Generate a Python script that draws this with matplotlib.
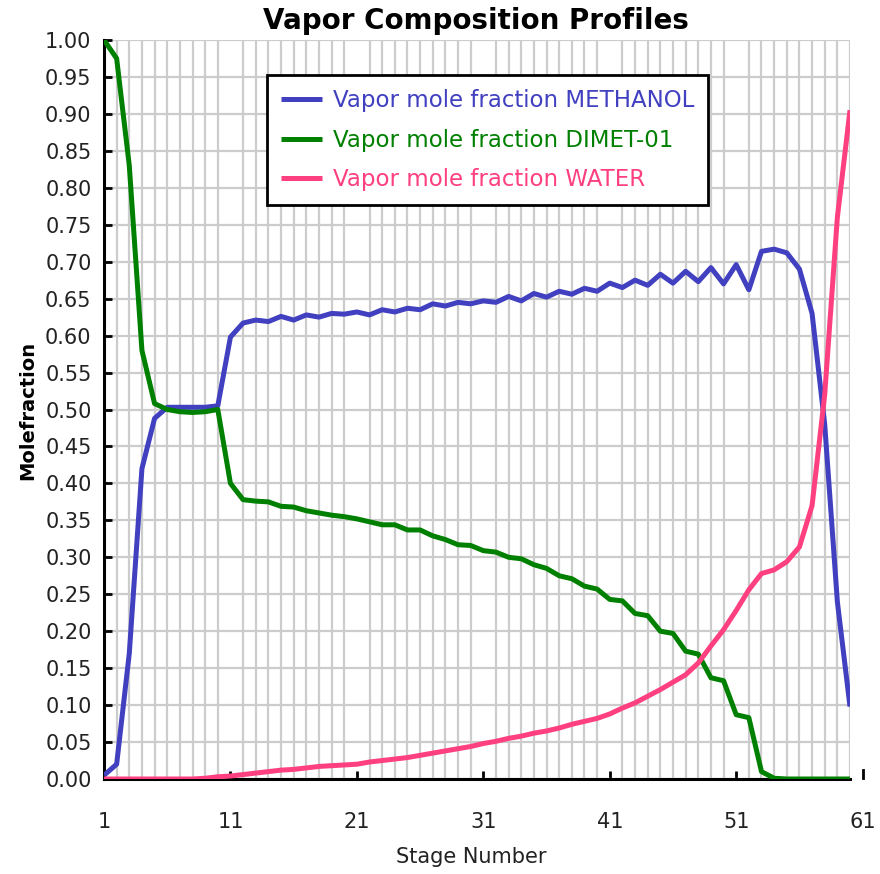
import numpy as np
import matplotlib
matplotlib.use("Agg")
import matplotlib.pyplot as plt
import matplotlib.transforms as mtransforms

# Stage numbers (column stages 1..60)
stages = list(range(1, 61))

methanol = [0.005, 0.020, 0.170, 0.420, 0.488, 0.503, 0.503, 0.503, 0.503, 0.505,
            0.598, 0.617, 0.621, 0.619, 0.626, 0.621, 0.628, 0.625, 0.630, 0.629,
            0.632, 0.628, 0.635, 0.632, 0.637, 0.635, 0.643, 0.640, 0.645, 0.643,
            0.647, 0.645, 0.653, 0.647, 0.657, 0.652, 0.660, 0.656, 0.664, 0.660,
            0.671, 0.665, 0.675, 0.668, 0.683, 0.671, 0.687, 0.673, 0.692, 0.670,
            0.696, 0.662, 0.714, 0.717, 0.712, 0.690, 0.630, 0.480, 0.240, 0.098]

dimethyl_ether = [1.000, 0.975, 0.830, 0.580, 0.508, 0.500, 0.497, 0.496, 0.497, 0.500,
                  0.400, 0.378, 0.376, 0.375, 0.369, 0.368, 0.363, 0.360, 0.357, 0.355,
                  0.352, 0.348, 0.344, 0.344, 0.337, 0.337, 0.329, 0.324, 0.317, 0.316,
                  0.309, 0.307, 0.300, 0.298, 0.290, 0.285, 0.275, 0.271, 0.261, 0.257,
                  0.243, 0.241, 0.224, 0.221, 0.200, 0.197, 0.173, 0.169, 0.137, 0.133,
                  0.087, 0.083, 0.010, 0.001, 0.000, 0.000, 0.000, 0.000, 0.000, 0.000]

water = [0.000, 0.000, 0.000, 0.000, 0.000, 0.000, 0.000, 0.000, 0.001, 0.003,
         0.004, 0.006, 0.008, 0.010, 0.012, 0.013, 0.015, 0.017, 0.018, 0.019,
         0.020, 0.023, 0.025, 0.027, 0.029, 0.032, 0.035, 0.038, 0.041, 0.044,
         0.048, 0.051, 0.055, 0.058, 0.062, 0.065, 0.069, 0.074, 0.078, 0.082,
         0.088, 0.096, 0.103, 0.112, 0.121, 0.131, 0.141, 0.157, 0.180, 0.202,
         0.228, 0.256, 0.278, 0.283, 0.294, 0.314, 0.370, 0.520, 0.760, 0.905]

series_labels = ["Vapor mole fraction METHANOL",
                 "Vapor mole fraction DIMET-01",
                 "Vapor mole fraction WATER"]
series_colors = ["#4040C0", "#008000", "#FF4080"]

x_tick_values = [1, 11, 21, 31, 41, 51]
x_extra_tick = 61
y_tick_values = [round(v * 0.05, 2) for v in range(21)]

W, H = 880, 874
fig = plt.figure(figsize=(W / 100, H / 100), dpi=100)
left, right, top, bottom = 104, 850, 40, 779
ax = fig.add_axes([left / W, 1 - bottom / H, (right - left) / W, (bottom - top) / H])

for ys, lab, col in zip([methanol, dimethyl_ether, water], series_labels, series_colors):
    ax.plot(stages, ys, color=col, lw=3.6, label=lab, solid_joinstyle="round",
            solid_capstyle="butt", zorder=3)

ax.set_xlim(1, 60)
ax.set_ylim(0, 1.0)

# grid: one vertical line per stage, horizontal every 0.05
ax.set_xticks(stages, minor=True)
ax.set_yticks(y_tick_values)
ax.set_xticks(x_tick_values)
ax.grid(True, which="minor", axis="x", color="#CCCCCC", lw=1.6)
ax.grid(True, which="major", axis="y", color="#CCCCCC", lw=1.6)
ax.set_axisbelow(True)
ax.tick_params(axis="x", which="minor", length=0)

ax.set_yticklabels([f"{v:.2f}" for v in y_tick_values])
ax.tick_params(axis="both", which="major", direction="in", length=6, width=2,
               color="black", labelsize=15, labelcolor="#222222")
ax.tick_params(axis="y", pad=9)
ax.tick_params(axis="x", pad=24)

for side in ["top", "right"]:
    ax.spines[side].set_visible(False)
for side in ["left", "bottom"]:
    ax.spines[side].set_linewidth(2.2)
    ax.spines[side].set_color("black")

# tick and label for stage 61, just beyond the last plotted stage
trans = mtransforms.blended_transform_factory(ax.transData, ax.transAxes)
ax.plot([x_extra_tick, x_extra_tick], [0.002, 0.012], color="black", lw=2,
        transform=trans, clip_on=False)
fig.canvas.draw()
bb = ax.get_xticklabels()[1].get_window_extent()
y_lab = ax.transAxes.inverted().transform((0, bb.y1))[1]
ax.text(x_extra_tick, y_lab, "61", transform=trans, ha="center", va="top",
        fontsize=15, color="#222222")

fig.text(476 / W, 1 - 21 / H, "Vapor Composition Profiles", ha="center", va="center",
         fontsize=20, fontweight="bold", color="black")
fig.text(471 / W, 1 - 857 / H, "Stage Number", ha="center", va="center",
         fontsize=15, color="#222222")
fig.text(28 / W, 1 - 410 / H, "Molefraction", ha="center", va="center",
         rotation=90, fontsize=14, fontweight="bold", color="black")

leg = ax.legend(loc="upper left", bbox_to_anchor=((267 - left) / (right - left),
                                                 (bottom - 75) / (bottom - top)),
                prop={"size": 16.5}, frameon=True, fancybox=False, shadow=False,
                borderaxespad=0, borderpad=0.62, handlelength=1.8, handletextpad=0.45,
                labelspacing=0.72, labelcolor="linecolor")
leg.get_frame().set_edgecolor("black")
leg.get_frame().set_linewidth(2)
leg.get_frame().set_alpha(1)
for line in leg.get_lines():
    line.set_linewidth(3.6)

fig.savefig("out.png", dpi=100)
